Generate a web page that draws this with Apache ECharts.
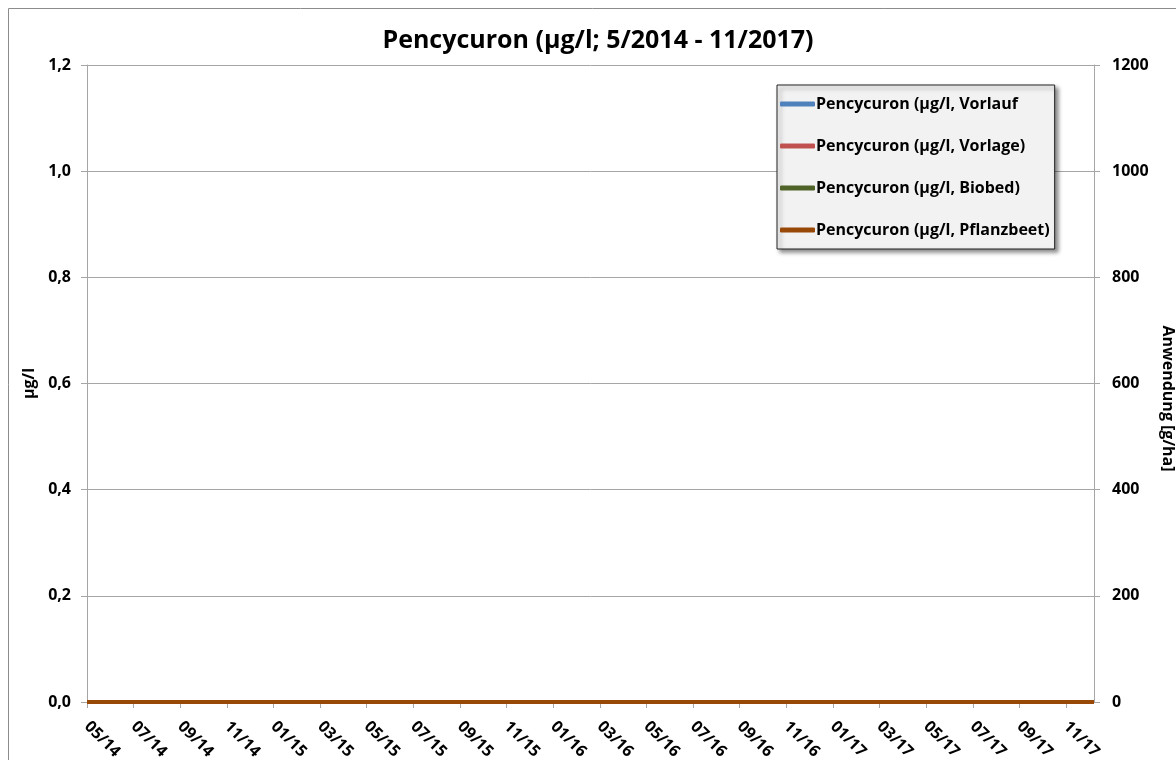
<!DOCTYPE html>
<html>
<head>
<meta charset="utf-8">
<script src="https://cdn.jsdelivr.net/npm/echarts@6/dist/echarts.min.js"></script>
<style>
html,body{margin:0;padding:0;background:#fff;}
#chart{width:1176px;height:760px;}
</style>
</head>
<body>
<div id="chart"></div>
<script>
// ---- data ----
var titleText = 'Pencycuron (µg/l; 5/2014 - 11/2017)';
var seriesNames = [
  'Pencycuron (µg/l, Vorlauf',
  'Pencycuron (µg/l, Vorlage)',
  'Pencycuron (µg/l, Biobed)',
  'Pencycuron (µg/l, Pflanzbeet)'
];
var seriesColors = ['#4F81BD', '#C0504D', '#4F6228', '#984807'];
// sample months as offsets from 05/2014
var sampleMonths = [0, 1, 2, 3, 4, 5, 6, 7, 8, 9, 10, 11, 12, 13, 14, 15, 16, 17, 18, 19, 20, 21,
  22, 23, 24, 25, 26, 27, 28, 29, 30, 31, 32, 33, 34, 35, 36, 37, 38, 39, 40, 41, 42, 43.2];
var vorlauf   = [0,0,0,0,0,0,0,0,0,0,0,0,0,0,0,0,0,0,0,0,0,0,0,0,0,0,0,0,0,0,0,0,0,0,0,0,0,0,0,0,0,0,0,0];
var vorlage   = [0,0,0,0,0,0,0,0,0,0,0,0,0,0,0,0,0,0,0,0,0,0,0,0,0,0,0,0,0,0,0,0,0,0,0,0,0,0,0,0,0,0,0,0];
var biobed    = [0,0,0,0,0,0,0,0,0,0,0,0,0,0,0,0,0,0,0,0,0,0,0,0,0,0,0,0,0,0,0,0,0,0,0,0,0,0,0,0,0,0,0,0];
var pflanzbeet= [0,0,0,0,0,0,0,0,0,0,0,0,0,0,0,0,0,0,0,0,0,0,0,0,0,0,0,0,0,0,0,0,0,0,0,0,0,0,0,0,0,0,0,0];
var anwendung = []; // no application shown
var startMonth = 5, startYear = 14;
var xMax = 43.2;

var FONT = 'Open Sans';
function pairs(vals) {
  return sampleMonths.map(function (m, i) { return [m, vals[i]]; });
}
function monthLabel(v) {
  if (Math.abs(v - Math.round(v)) > 1e-6) return '';
  var m = startMonth - 1 + Math.round(v);
  var mm = (m % 12) + 1;
  var yy = startYear + Math.floor(m / 12);
  return (mm < 10 ? '0' : '') + mm + '/' + yy;
}
var allData = [vorlauf, vorlage, biobed, pflanzbeet];

var chart = echarts.init(document.getElementById('chart'));
chart.setOption({
  animation: false,
  backgroundColor: '#fff',
  title: {
    text: titleText,
    left: 593, top: 23, textAlign: 'center',
    textStyle: { fontFamily: FONT, fontWeight: 'bold', fontSize: 25, color: '#000' }
  },
  graphic: [{
    type: 'rect', silent: true, z: -1,
    shape: { x: 8.5, y: 8.5, width: 1200, height: 800 },
    style: { fill: 'none', stroke: '#8c8c8c', lineWidth: 1 }
  }],
  legend: {
    orient: 'vertical',
    left: 777, top: 85,
    data: seriesNames,
    icon: 'roundRect',
    itemWidth: 35, itemHeight: 5,
    itemGap: 26,
    padding: [11, 5, 11, 3],
    backgroundColor: '#F2F2F2',
    borderColor: '#222', borderWidth: 1,
    shadowColor: 'rgba(0,0,0,0.45)', shadowBlur: 4, shadowOffsetX: 3, shadowOffsetY: 3,
    textStyle: { fontFamily: FONT, fontWeight: 'bold', fontSize: 16, color: '#000', padding: [0, 0, 0, -4] }
  },
  grid: { left: 87, right: 82, top: 65, bottom: 58, containLabel: false, outerBoundsMode: 'none' },
  xAxis: {
    type: 'value', min: 0, max: xMax, interval: 2,
    axisLine: { show: true, lineStyle: { color: '#A6A6A6' } },
    axisTick: { show: true, length: 6, lineStyle: { color: '#A6A6A6' } },
    splitLine: { show: false },
    axisLabel: {
      rotate: -45, margin: 22, showMaxLabel: false,
      fontFamily: FONT, fontWeight: 'bold', fontSize: 16, color: '#000',
      formatter: monthLabel
    }
  },
  yAxis: [{
    type: 'value', min: 0, max: 1.2, interval: 0.2,
    name: 'µg/l', nameLocation: 'middle', nameGap: 47,
    nameTextStyle: { fontFamily: FONT, fontWeight: 'bold', fontSize: 16, color: '#000' },
    axisLine: { show: true, lineStyle: { color: '#A6A6A6' } },
    axisTick: { show: true, length: 6, lineStyle: { color: '#A6A6A6' } },
    splitLine: { show: true, lineStyle: { color: '#A6A6A6' } },
    axisLabel: {
      margin: 16, fontFamily: FONT, fontWeight: 'bold', fontSize: 16, color: '#000',
      formatter: function (v) { return v.toFixed(1).replace('.', ','); }
    }
  }, {
    type: 'value', min: 0, max: 1200, interval: 200, position: 'right',
    name: 'Anwendung [g/ha]', nameLocation: 'middle', nameGap: 57, nameRotate: -90,
    nameTextStyle: { fontFamily: FONT, fontWeight: 'bold', fontSize: 16, color: '#000', padding: [0, 0, 0, 30] },
    axisLine: { show: true, lineStyle: { color: '#A6A6A6' } },
    axisTick: { show: true, length: 6, lineStyle: { color: '#A6A6A6' } },
    splitLine: { show: false },
    axisLabel: {
      margin: 18, fontFamily: FONT, fontWeight: 'bold', fontSize: 16, color: '#000',
      formatter: function (v) { return String(v); }
    }
  }],
  series: seriesNames.map(function (n, i) {
    return {
      name: n, type: 'line', yAxisIndex: 0,
      data: pairs(allData[i]),
      showSymbol: false, symbol: 'none',
      color: seriesColors[i],
      lineStyle: { width: 4, color: seriesColors[i] },
      z: 2 + i
    };
  }).concat([{
    name: 'Anwendung', type: 'bar', yAxisIndex: 1, data: anwendung
  }])
});
</script>
</body>
</html>
